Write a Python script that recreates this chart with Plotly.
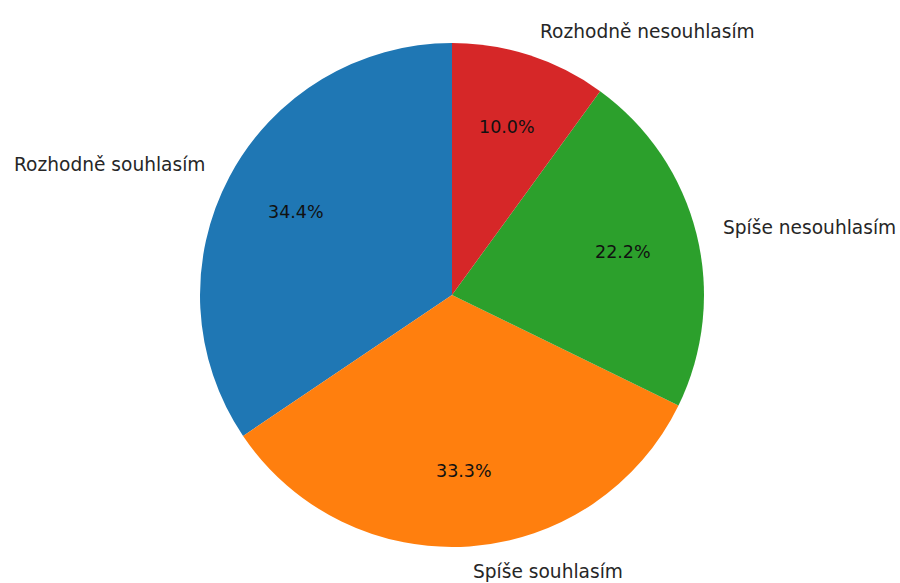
import math
import plotly.graph_objects as go

# Survey answers (counts of respondents)
labels = ["Rozhodně souhlasím", "Spíše souhlasím", "Spíše nesouhlasím", "Rozhodně nesouhlasím"]
counts = [31, 30, 20, 9]
colors = ["#1f77b4", "#ff7f0e", "#2ca02c", "#d62728"]

W, H = 900, 583
cx, cy, R = 452, 295, 252          # pie centre and radius in pixels
label_dist, pct_dist = 1.1, 0.7
font_family = "DejaVu Sans"
label_size = 18.6
pct_size = 17.5

total = sum(counts)

# plotly's counterclockwise pies end the first slice at the rotation angle;
# shift by the first slice so it starts at 12 o'clock instead
first_span = 360.0 * counts[0] / total

fig = go.Figure(go.Pie(
    labels=labels,
    values=counts,
    marker=dict(colors=colors, line=dict(width=0)),
    sort=False,
    direction="counterclockwise",
    rotation=-first_span,
    textinfo="none",
    hoverinfo="label+percent",
    showlegend=False,
    domain=dict(x=[(cx - R) / W, (cx + R) / W],
                y=[(H - cy - R) / H, (H - cy + R) / H]),
))

start = 90.0
annotations = []
for lab, v in zip(labels, counts):
    span = 360.0 * v / total
    mid = math.radians(start + span / 2)
    start += span
    dx, dy = math.cos(mid), math.sin(mid)
    # category name just outside the rim
    lx = cx + label_dist * R * dx
    ly = cy - label_dist * R * dy
    annotations.append(dict(
        x=lx / W, y=1 - ly / H, xref="paper", yref="paper",
        text=lab, showarrow=False,
        xanchor="left" if dx > 0 else "right", yanchor="middle",
        font=dict(family=font_family, size=label_size, color="#262626"),
    ))
    # share of answers inside the slice
    px = cx + pct_dist * R * dx
    py = cy - pct_dist * R * dy
    annotations.append(dict(
        x=px / W, y=1 - py / H, xref="paper", yref="paper",
        text=f"{100.0 * v / total:.1f}%", showarrow=False,
        xanchor="center", yanchor="middle",
        font=dict(family=font_family, size=pct_size, color="#111111"),
    ))

fig.update_layout(
    width=W, height=H,
    margin=dict(l=0, r=0, t=0, b=0),
    paper_bgcolor="white",
    plot_bgcolor="white",
    annotations=annotations,
)

fig.write_html("out.html")
